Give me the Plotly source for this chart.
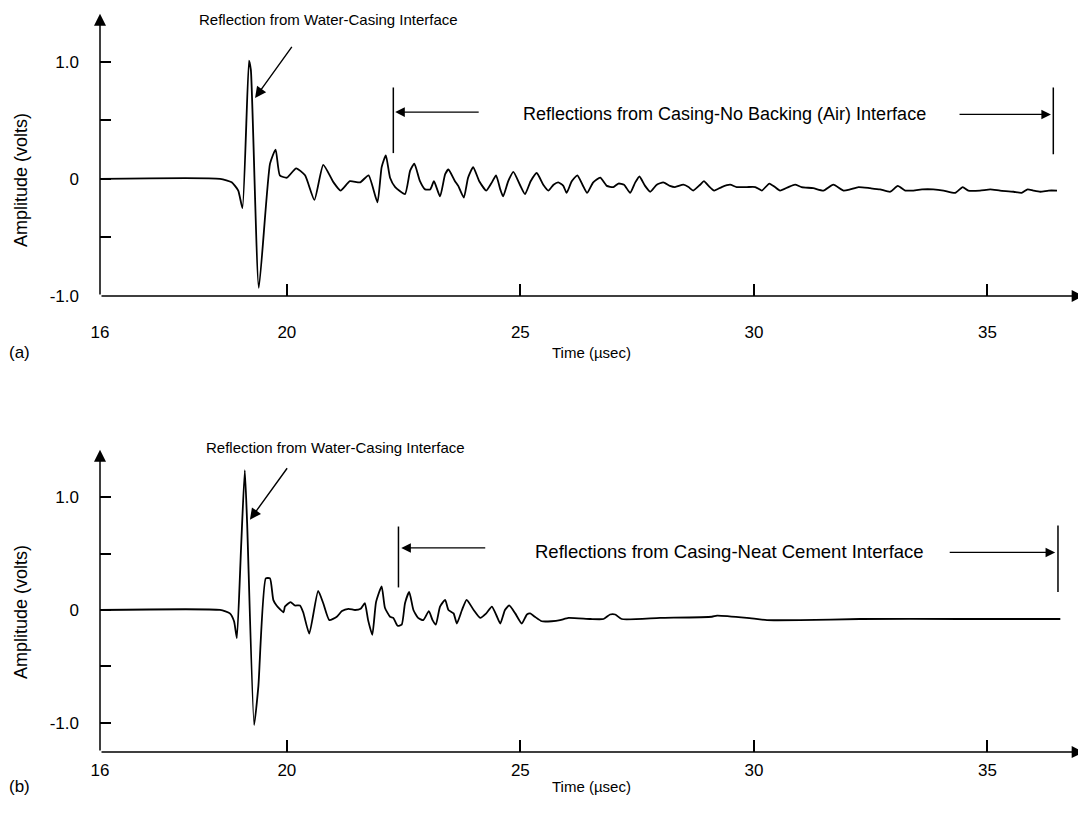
import plotly.graph_objects as go

# ---------------- data ----------------
t_a = [16.00, 18.57, 18.82, 18.96, 19.05, 19.19, 19.23, 19.40, 19.64, 19.76, 19.85, 20.00,
       20.20, 20.39, 20.59, 20.78, 21.00, 21.15, 21.35, 21.57, 21.75, 21.94, 22.03, 22.12,
       22.21, 22.32, 22.53, 22.64, 22.73, 22.85, 22.96, 23.07, 23.15, 23.28, 23.39, 23.46,
       23.60, 23.67, 23.79, 23.88, 23.99, 24.12, 24.27, 24.39, 24.48, 24.57, 24.63, 24.74,
       24.85, 24.99, 25.10, 25.22, 25.35, 25.49, 25.60, 25.71, 25.81, 25.92, 25.99, 26.10,
       26.22, 26.33, 26.43, 26.56, 26.71, 26.85, 26.99, 27.10, 27.22, 27.35, 27.46, 27.55,
       27.67, 27.78, 27.92, 28.06, 28.20, 28.31, 28.49, 28.60, 28.70, 28.85, 28.93, 29.03,
       29.15, 29.31, 29.49, 29.63, 29.85, 30.03, 30.17, 30.33, 30.45, 30.56, 30.74, 30.88,
       31.02, 31.27, 31.49, 31.70, 31.92, 32.06, 32.24, 32.49, 32.70, 32.92, 33.08, 33.24,
       33.38, 33.60, 33.84, 34.06, 34.31, 34.47, 34.59, 34.84, 35.06, 35.27, 35.56, 35.73,
       35.86, 35.98, 36.13, 36.31, 36.49]
amp_a = [0.00, 0.00, -0.03, -0.10, -0.25, 1.01, 0.93, -0.93, 0.13, 0.25, 0.03, 0.01,
         0.09, 0.03, -0.18, 0.12, -0.03, -0.10, -0.02, -0.03, 0.03, -0.20, 0.10, 0.20,
         0.01, -0.07, -0.13, 0.07, 0.13, -0.02, -0.09, -0.09, -0.02, -0.15, 0.04, 0.08,
         -0.02, -0.06, -0.16, 0.01, 0.10, -0.02, -0.10, -0.03, 0.03, -0.09, -0.15, -0.02,
         0.06, -0.05, -0.13, -0.02, 0.05, -0.05, -0.10, -0.05, -0.03, -0.06, -0.12, -0.02,
         0.03, -0.05, -0.12, -0.03, 0.01, -0.06, -0.07, -0.04, -0.05, -0.12, -0.03, 0.02,
         -0.06, -0.11, -0.05, -0.03, -0.06, -0.07, -0.05, -0.07, -0.10, -0.05, -0.02, -0.06,
         -0.10, -0.07, -0.05, -0.07, -0.07, -0.07, -0.10, -0.04, -0.07, -0.10, -0.07, -0.05,
         -0.07, -0.08, -0.10, -0.05, -0.10, -0.09, -0.07, -0.08, -0.09, -0.11, -0.06, -0.10,
         -0.10, -0.09, -0.09, -0.10, -0.12, -0.07, -0.10, -0.10, -0.09, -0.10, -0.11, -0.12,
         -0.09, -0.10, -0.11, -0.10, -0.10]

t_b = [16.00, 18.57, 18.78, 18.87, 18.93, 19.02, 19.10, 19.15, 19.30, 19.39, 19.55, 19.64,
       19.71, 19.78, 19.93, 19.96, 20.08, 20.17, 20.28, 20.35, 20.48, 20.67, 20.78, 20.91,
       21.07, 21.18, 21.32, 21.46, 21.58, 21.67, 21.74, 21.83, 21.91, 22.03, 22.10, 22.21,
       22.28, 22.37, 22.46, 22.53, 22.62, 22.71, 22.81, 22.92, 23.04, 23.12, 23.19, 23.28,
       23.39, 23.46, 23.57, 23.64, 23.75, 23.85, 24.00, 24.14, 24.27, 24.39, 24.50, 24.57,
       24.67, 24.76, 24.89, 25.03, 25.14, 25.21, 25.31, 25.46, 25.67, 25.85, 26.03, 26.50,
       26.78, 26.92, 27.03, 27.17, 27.99, 29.10, 29.21, 29.85, 30.28, 30.99, 32.27, 34.42,
       36.56]
amp_b = [0.00, 0.00, -0.03, -0.10, -0.25, 0.55, 1.24, 0.77, -1.02, -0.68, 0.28, 0.28,
         0.09, 0.04, -0.02, 0.03, 0.07, 0.04, 0.04, -0.02, -0.21, 0.17, 0.06, -0.09,
         -0.06, -0.01, 0.01, 0.00, 0.01, 0.06, -0.09, -0.22, 0.07, 0.21, 0.02, -0.06,
         -0.07, -0.14, -0.13, 0.06, 0.16, 0.00, -0.07, -0.09, -0.01, -0.09, -0.13, 0.03,
         0.09, 0.00, -0.03, -0.12, 0.00, 0.09, 0.00, -0.07, -0.03, 0.03, -0.06, -0.12,
         0.00, 0.04, -0.03, -0.12, -0.04, -0.03, -0.06, -0.10, -0.10, -0.09, -0.07, -0.08,
         -0.08, -0.04, -0.04, -0.08, -0.07, -0.06, -0.05, -0.07, -0.09, -0.09, -0.08, -0.08,
         -0.08]

x_tickvals = [16, 20, 25, 30, 35]
x_ticktext = ["16", "20", "25", "30", "35"]
y_tickvals = [-1.0, -0.5, 0.0, 0.5, 1.0]
y_ticktext = ["-1.0", "", "0", "", "1.0"]

title_first = "Reflection from Water-Casing Interface"
label_a = "Reflections from Casing-No Backing (Air) Interface"
label_b = "Reflections from Casing-Neat Cement Interface"
x_title = "Time (\u00b5sec)"
y_title = "Amplitude (volts)"

# ---------------- figure ----------------
# page body has an 8px margin, so the figure is sized/offset to fill the 1086x813 window
OFF = 8
W, H = 1086 - OFF, 813 - OFF
FONT = "Liberation Sans, Arial, sans-serif"
TICKFONT = dict(family=FONT, size=17, color="black")

def px(x):
    return (x - OFF) / W

def py(y):
    return 1 - (y - OFF) / H

fig = go.Figure()
fig.add_trace(go.Scatter(x=t_a, y=amp_a, mode="lines",
                         line=dict(color="black", width=1.8, shape="spline", smoothing=0.5),
                         xaxis="x", yaxis="y", showlegend=False, hoverinfo="skip"))
fig.add_trace(go.Scatter(x=t_b, y=amp_b, mode="lines",
                         line=dict(color="black", width=1.8, shape="spline", smoothing=0.5),
                         xaxis="x2", yaxis="y2", showlegend=False, hoverinfo="skip"))

xr = [16, 37.11]
yr_a = [-1.0, 1.45]
yr_b = [-1.26, 1.50]
dom_a = [py(296), py(9)]
dom_b = [py(752.1), py(440.8)]

def xaxis(anchor, standoff):
    return dict(domain=[px(100), 1.0], range=xr, anchor=anchor, showgrid=False, zeroline=False,
                showline=False, tickmode="array", tickvals=x_tickvals, ticktext=x_ticktext,
                ticks="inside", ticklen=12, tickwidth=1.5, tickcolor="black", automargin=False,
                tickfont=TICKFONT, ticklabelstandoff=standoff)

def yaxis(anchor, dom, rng):
    return dict(domain=dom, range=rng, anchor=anchor, showgrid=False, zeroline=False,
                showline=False, tickmode="array", tickvals=y_tickvals, ticktext=y_ticktext,
                ticks="inside", ticklen=11, tickwidth=1.5, tickcolor="black", automargin=False,
                tickfont=TICKFONT, ticklabelstandoff=20)

fig.update_layout(
    width=W, height=H, margin=dict(l=0, r=0, t=0, b=0, autoexpand=False),
    paper_bgcolor="white", plot_bgcolor="white",
    xaxis=xaxis("y", 24), yaxis=yaxis("x", dom_a, yr_a),
    xaxis2=xaxis("y2", 6), yaxis2=yaxis("x2", dom_b, yr_b),
    showlegend=False,
)

anns = []
shapes = []

def arrow(xref, yref, x, y, ax, ay, head=2, size=1.4, width=1.5):
    anns.append(dict(xref=xref, yref=yref, axref=xref, ayref=yref, x=x, y=y, ax=ax, ay=ay,
                     text="", showarrow=True, arrowhead=head, arrowsize=size, arrowwidth=width,
                     arrowcolor="black", standoff=0, startstandoff=0))

def text(xref, yref, x, y, s, size=16, xanchor="center", angle=0):
    anns.append(dict(xref=xref, yref=yref, x=x, y=y, text=s, showarrow=False,
                     xanchor=xanchor, yanchor="middle", textangle=angle,
                     font=dict(family=FONT, size=size, color="black")))

def vline(xref, yref, x, y0, y1):
    shapes.append(dict(type="line", xref=xref, yref=yref, x0=x, x1=x, y0=y0, y1=y1,
                       line=dict(color="black", width=1.5)))

# panel (a)
arrow("x", "y", 37.06, -1.0, 16, -1.0, size=1.6)
arrow("x", "y", 16, 1.41, 16, -1.0, size=1.6)
arrow("x", "y", 19.32, 0.69, 20.13, 1.14, size=1.6, width=1.4)
vline("x", "y", 22.28, 0.22, 0.78)
arrow("x", "y", 22.32, 0.57, 24.14, 0.57, size=1.6, width=1.2)
arrow("x", "y", 36.36, 0.55, 34.37, 0.55, size=1.6, width=1.2)
vline("x", "y", 36.41, 0.21, 0.78)
text("x", "y", 29.38, 0.55, label_a, size=18)
text("paper", "paper", px(328), py(19), title_first, size=15)

# panel (b)
arrow("x2", "y2", 37.06, -1.26, 16, -1.26, size=1.6)
arrow("x2", "y2", 16, 1.42, 16, -1.26, size=1.6)
arrow("x2", "y2", 19.21, 0.80, 20.03, 1.27, size=1.6, width=1.4)
vline("x2", "y2", 22.39, 0.20, 0.74)
arrow("x2", "y2", 22.45, 0.55, 24.28, 0.55, size=1.6, width=1.2)
arrow("x2", "y2", 36.45, 0.51, 34.16, 0.51, size=1.6, width=1.2)
vline("x2", "y2", 36.51, 0.16, 0.75)
text("x2", "y2", 29.47, 0.52, label_b, size=18.5)
text("paper", "paper", px(335), py(447), title_first, size=15)

# axis titles and panel labels
for yc in (180, 612):
    text("paper", "paper", px(21), py(yc), y_title, size=18, angle=-90)
for yc, lab in ((352, "(a)"), (786, "(b)")):
    text("paper", "paper", px(591), py(yc), x_title, size=15)
    anns.append(dict(xref="paper", yref="paper", x=px(7), y=py(yc), text=lab, showarrow=False,
                     xanchor="left", yanchor="middle",
                     font=dict(family=FONT, size=17, color="black")))

fig.update_layout(annotations=anns, shapes=shapes)
fig.write_html("out.html")
